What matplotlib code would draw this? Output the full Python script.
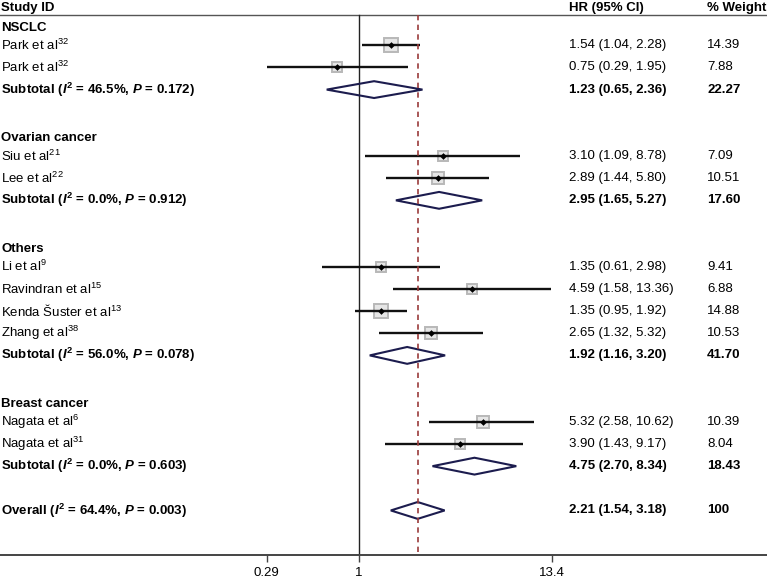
import matplotlib
matplotlib.use("Agg")
import matplotlib.pyplot as plt
import numpy as np
from matplotlib.patches import Polygon

plt.rcParams['font.family'] = ['Liberation Sans', 'DejaVu Sans']
plt.rcParams['font.size'] = 9.5
plt.rcParams['mathtext.fontset'] = 'custom'
plt.rcParams['mathtext.rm'] = 'Liberation Sans'
plt.rcParams['mathtext.it'] = 'Liberation Sans:italic:bold'
plt.rcParams['mathtext.bf'] = 'Liberation Sans:bold'

# ---- data ----
groups = ["NSCLC", "Ovarian cancer", "Others", "Breast cancer"]
study_names = ["Park et al", "Park et al", "Siu et al", "Lee et al", "Li et al",
               "Ravindran et al", "Kenda Šuster et al", "Zhang et al",
               "Nagata et al", "Nagata et al"]
study_refs = ["32", "32", "21", "22", "9", "15", "13", "38", "6", "31"]
study_group = [0, 0, 1, 1, 2, 2, 2, 2, 3, 3]
study_hr = [1.54, 0.75, 3.10, 2.89, 1.35, 4.59, 1.35, 2.65, 5.32, 3.90]
study_lo = [1.04, 0.29, 1.09, 1.44, 0.61, 1.58, 0.95, 1.32, 2.58, 1.43]
study_hi = [2.28, 1.95, 8.78, 5.80, 2.98, 13.36, 1.92, 5.32, 10.62, 9.17]
study_w = [14.39, 7.88, 7.09, 10.51, 9.41, 6.88, 14.88, 10.53, 10.39, 8.04]

sub_hr = [1.23, 2.95, 1.92, 4.75]
sub_lo = [0.65, 1.65, 1.16, 2.70]
sub_hi = [2.36, 5.27, 3.20, 8.34]
sub_w = [22.27, 17.60, 41.70, 18.43]
sub_i2 = [46.5, 0.0, 56.0, 0.0]
sub_p = [0.172, 0.912, 0.078, 0.603]

overall_hr, overall_lo, overall_hi = 2.21, 1.54, 3.18
overall_i2, overall_p = 64.4, 0.003

x_ticks = [0.29, 1, 13.4]
x_ticklabels = ["0.29", "1", "13.4"]

# ---- layout (pixels of a 767x579 canvas) ----
W, H = 767, 579
AXIS_PX = 555          # y of the bottom axis line
ROW_PX = 22.15         # row height
ONE_PX = 358.7         # x of HR = 1
PX_PER_LN = 74.3       # pixels per unit of ln(HR)


def row_of(px):
    return (px - 1) / ROW_PX


fig = plt.figure(figsize=(W / 100, H / 100), dpi=100)
ax = fig.add_axes([0, (H - AXIS_PX) / H, 1, AXIS_PX / H])
ax.set_xscale('log')
ax.set_xlim(np.exp(-ONE_PX / PX_PER_LN), np.exp((W - ONE_PX) / PX_PER_LN))
ax.set_ylim(row_of(AXIS_PX), row_of(0))

for s in ['left', 'right', 'top']:
    ax.spines[s].set_visible(False)
ax.spines['bottom'].set_color('#444444')
ax.spines['bottom'].set_linewidth(1.4)
ax.set_yticks([])
ax.set_xticks(x_ticks)
ax.set_xticklabels(x_ticklabels)
ax.minorticks_off()
ax.tick_params(axis='x', length=5, width=1.0, color='#444444', pad=3.5, labelsize=9.5)

tr = ax.get_yaxis_transform()  # x in axes fraction, y in data
X_LABEL = 1 / W
X_HR = 569 / W
X_WT = 707 / W

header_row = row_of(15)
ax.text(X_LABEL, row_of(7.5), "Study ID", transform=tr, fontweight='bold', va='center')
ax.text(X_HR, row_of(7.5), "HR (95% CI)", transform=tr, fontweight='bold', va='center')
ax.text(X_WT, row_of(7.5), "% Weight", transform=tr, fontweight='bold', va='center')
ax.axhline(header_row, color='#555555', lw=1.0)

bottom_row = row_of(AXIS_PX)
ax.plot([1, 1], [header_row, bottom_row], color='#222222', lw=1.0, zorder=2)
ax.plot([overall_hr, overall_hr], [header_row, bottom_row], color='#9a3b3b', lw=1.2,
        linestyle=(0, (3.2, 2.6)), zorder=4)

DH = 0.38  # diamond half-height in rows


def diamond(lo, hr, hi, y):
    poly = Polygon([(lo, y), (hr, y - DH), (hi, y), (hr, y + DH)], closed=True,
                   facecolor='none', edgecolor='#1c1c4e', lw=1.5, zorder=3)
    ax.add_patch(poly)


row = 1
for g, gname in enumerate(groups):
    ax.text(X_LABEL, row + 0.2, gname, transform=tr, fontweight='bold', va='center')
    row += 1
    for i in [k for k, sg in enumerate(study_group) if sg == g]:
        ax.text(X_LABEL, row, f"{study_names[i]}$^{{{study_refs[i]}}}$", transform=tr, va='center')
        ax.text(X_HR, row, f"{study_hr[i]:.2f} ({study_lo[i]:.2f}, {study_hi[i]:.2f})",
                transform=tr, va='center')
        ax.text(X_WT, row, f"{study_w[i]:.2f}", transform=tr, va='center')
        ax.plot([study_hr[i]], [row], marker='s', ms=2.48 * np.sqrt(study_w[i]),
                mfc='#e6e6e6', mec='#b8b8b8', mew=1.4, zorder=2)
        ax.plot([study_lo[i], study_hi[i]], [row, row], color='#111111', lw=1.7,
                solid_capstyle='butt', zorder=3)
        ax.plot([study_hr[i]], [row], marker='D', ms=3.4, mew=0, color='black', zorder=5)
        row += 1
    ax.text(X_LABEL, row, f"Subtotal ($I^{{\\mathbf{{2}}}}$ = {sub_i2[g]:.1f}%, $P$ = {sub_p[g]:.3f})",
            transform=tr, fontweight='bold', va='center')
    ax.text(X_HR, row, f"{sub_hr[g]:.2f} ({sub_lo[g]:.2f}, {sub_hi[g]:.2f})",
            transform=tr, fontweight='bold', va='center')
    ax.text(X_WT, row, f"{sub_w[g]:.2f}", transform=tr, fontweight='bold', va='center')
    diamond(sub_lo[g], sub_hr[g], sub_hi[g], row)
    row += 2

ax.text(X_LABEL, row, f"Overall ($I^{{\\mathbf{{2}}}}$ = {overall_i2:.1f}%, $P$ = {overall_p:.3f})",
        transform=tr, fontweight='bold', va='center')
ax.text(X_HR, row, f"{overall_hr:.2f} ({overall_lo:.2f}, {overall_hi:.2f})",
        transform=tr, fontweight='bold', va='center')
ax.text(X_WT, row, "100", transform=tr, fontweight='bold', va='center')
diamond(overall_lo, overall_hr, overall_hi, row)

fig.savefig("out.png", dpi=100)
